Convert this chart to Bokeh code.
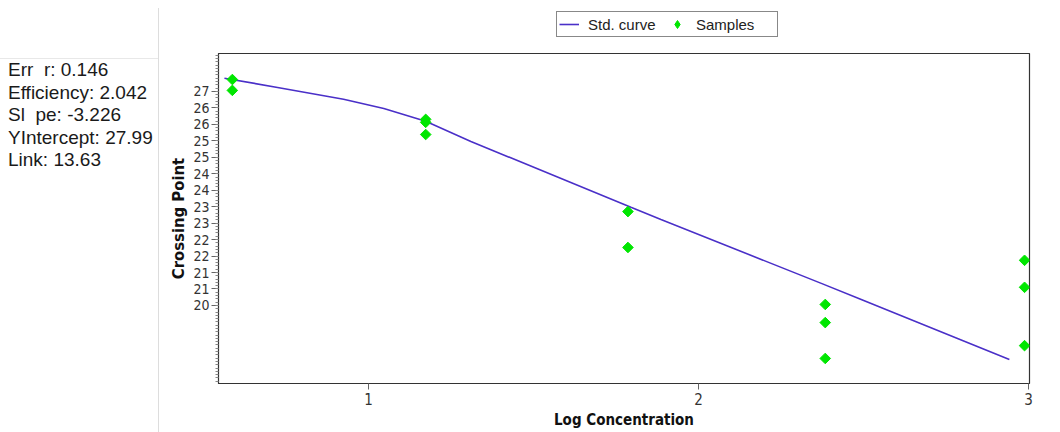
import math
from bokeh.plotting import figure
from bokeh.layouts import row, column
from bokeh.models import (FixedTicker, Range1d, Legend, LegendItem, Div)
from bokeh.embed import file_html
from bokeh.resources import INLINE

# ---- data ----
curve_x = [0.563, 0.724, 0.924, 1.046, 1.173, 1.310, 1.795, 1.886, 2.372, 2.493, 2.942]
curve_y = [27.40, 27.12, 26.76, 26.48, 26.09, 25.48, 23.48, 23.11, 21.17, 20.68, 18.86]

sample_x = [0.587, 0.587, 1.173, 1.173, 1.173, 1.786, 1.786,
            2.384, 2.384, 2.384, 2.988, 2.988, 2.988]
sample_y = [27.36, 27.03, 26.15, 26.06, 25.69, 23.35, 22.26,
            20.53, 19.98, 18.89, 21.87, 21.05, 19.28]

x_ticks = [1, 2, 3]
y_ticks = [27.0, 26.5, 26.0, 25.5, 25.0, 24.5, 24.0, 23.5, 23.0, 22.5, 22.0, 21.5, 21.0, 20.5]
y_tick_labels = ["27", "26", "26", "25", "25", "24", "24", "23", "23", "22", "22", "21", "21", "20"]
y_minor = [round(18.2 + 0.1 * i, 2) for i in range(100)]

series_names = ["Std. curve", "Samples"]
stats_lines = ["Err  r: 0.146", "Efficiency: 2.042", "Sl  pe: -3.226",
               "YIntercept: 27.99", "Link: 13.63"]

NARROW = "Liberation Sans Narrow, Arial Narrow, DejaVu Sans Condensed, sans-serif"
CURVE_COLOR = "#4a30c8"
POINT_COLOR = "#00e600"

# ---- left statistics panel ----
panel_html = (
    '<div style="position:relative;width:159px;height:432px;">'
    '<div style="position:absolute;left:158px;top:8px;width:1px;height:424px;background:#dddddd;"></div>'
    '<div style="position:absolute;left:0px;top:58px;width:158px;height:1px;background:#e8e8e8;"></div>'
    '<div style="position:absolute;left:8px;top:59px;white-space:pre;'
    "font-family:'Liberation Sans',Arial,sans-serif;font-size:19px;line-height:22.5px;color:#1a1a1a;\">"
    + "<br>".join(stats_lines) +
    '</div></div>'
)
panel = Div(text=panel_html, width=159, height=432, margin=0)

# ---- legend strip above the chart (proxy renderers fall outside its range) ----
lf = figure(width=901, height=50, output_backend="svg", toolbar_location=None,
            x_range=Range1d(0, 1), y_range=Range1d(0, 1), min_border=0, margin=0)
lf.axis.visible = False
lf.grid.visible = False
lf.outline_line_color = None
lf_line = lf.line(curve_x, curve_y, line_color=CURVE_COLOR, line_width=1.6)
lf_pts = lf.scatter(sample_x, sample_y, marker="diamond", size=8,
                    fill_color=POINT_COLOR, line_color=POINT_COLOR)
legend = Legend(items=[LegendItem(label=series_names[0], renderers=[lf_line]),
                       LegendItem(label=series_names[1], renderers=[lf_pts])],
                orientation="horizontal", location=(338, 13),
                border_line_color="#111111", border_line_width=1,
                label_text_font="Liberation Sans", label_text_font_size="15px",
                label_text_color="#222222", padding=2, margin=0, spacing=0,
                glyph_width=20, glyph_height=20, label_height=20, label_width=79,
                label_standoff=9, background_fill_alpha=1)
lf.add_layout(legend, "center")

# ---- chart ----
p = figure(width=901, height=382, output_backend="svg", toolbar_location=None,
           x_range=Range1d(0.545, 3.003), y_range=Range1d(18.13, 28.15),
           min_border_left=59, min_border_right=31, min_border_top=3,
           min_border_bottom=49, margin=0)
p.grid.visible = False
p.outline_line_color = "#333333"
p.outline_line_width = 1.2
p.background_fill_color = "white"
p.border_fill_color = "white"

p.line(curve_x, curve_y, line_color=CURVE_COLOR, line_width=1.6)
p.scatter(sample_x, sample_y, marker="square", angle=math.pi / 4, size=7.5,
          fill_color=POINT_COLOR, line_color=POINT_COLOR)

# axes
xa = p.xaxis[0]
xa.ticker = FixedTicker(ticks=x_ticks)
xa.axis_label = "Log Concentration"
xa.axis_label_text_font = NARROW
xa.axis_label_text_font_style = "bold"
xa.axis_label_text_font_size = "15px"
xa.axis_label_text_color = "#111111"
xa.axis_label_standoff = 3
xa.major_label_text_font = NARROW
xa.major_label_text_font_size = "15px"
xa.major_label_text_color = "#333333"
xa.major_label_standoff = 3
xa.major_tick_out = 6
xa.major_tick_in = 0
xa.minor_tick_out = 0
xa.axis_line_color = "#333333"
xa.major_tick_line_color = "#666666"

ya = p.yaxis[0]
ya.ticker = FixedTicker(ticks=y_ticks, minor_ticks=y_minor)
ya.major_label_overrides = {t: lab for t, lab in zip(y_ticks, y_tick_labels)}
ya.axis_label = "Crossing Point"
ya.axis_label_text_font = NARROW
ya.axis_label_text_font_style = "bold"
ya.axis_label_text_font_size = "16.5px"
ya.axis_label_text_color = "#111111"
ya.axis_label_standoff = 2
ya.major_label_text_font = NARROW
ya.major_label_text_font_size = "14px"
ya.major_label_text_color = "#333333"
ya.major_label_standoff = 2
ya.major_tick_out = 7
ya.major_tick_in = 0
ya.minor_tick_out = 3
ya.minor_tick_in = 0
ya.axis_line_color = "#333333"
ya.major_tick_line_color = "#666666"
ya.minor_tick_line_color = "#888888"

layout = row(panel, column(lf, p, spacing=0), spacing=0)
open("out.html", "w").write(file_html(layout, INLINE))
